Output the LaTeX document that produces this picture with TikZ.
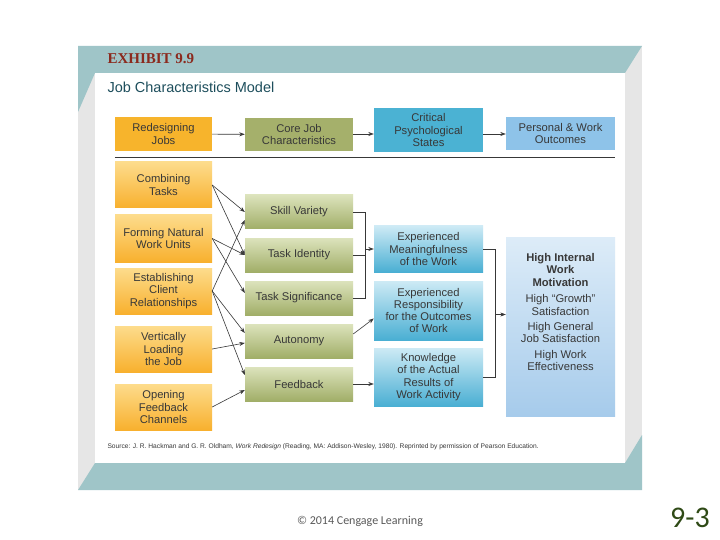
\documentclass[tikz,border=0pt]{standalone}
\usepackage{fontspec}
\setmainfont{Liberation Sans}
\newfontfamily\exhibitfont{Liberation Serif}
\newfontfamily\slidefont{Carlito}
\usetikzlibrary{arrows.meta}

\definecolor{frameteal}{HTML}{9FC5C8}
\definecolor{framegray}{HTML}{E6E6E6}
\definecolor{exhibitred}{HTML}{8B2A1E}
\definecolor{titleteal}{HTML}{1D4E5C}
\definecolor{boxtext}{HTML}{383838}
\definecolor{leverflat}{HTML}{F7B42C}
\definecolor{levertop}{HTML}{FDDC8C}
\definecolor{leverbot}{HTML}{F8B02E}
\definecolor{coreflat}{HTML}{A5B06B}
\definecolor{coretop}{HTML}{DCE3BC}
\definecolor{corebot}{HTML}{A1AE68}
\definecolor{stateflat}{HTML}{4BB2D3}
\definecolor{statetop}{HTML}{CDEAF5}
\definecolor{statebot}{HTML}{4AAFD3}
\definecolor{outflat}{HTML}{8EC3E9}
\definecolor{outtop}{HTML}{DDECF8}
\definecolor{outbot}{HTML}{A6CBEB}
\definecolor{slidegreen}{HTML}{2F4A16}

\begin{document}
\begin{tikzpicture}[x=1pt,y=-1pt, font=\fontsize{11.2}{12.3}\selectfont,
  box/.style={inner sep=1pt, align=center, text=boxtext},
  lever/.style={box, top color=levertop, bottom color=leverbot, minimum width=97pt, minimum height=46pt},
  corebox/.style={box, top color=coretop, bottom color=corebot, minimum width=108pt, minimum height=34pt},
  statebox/.style={box, top color=statetop, bottom color=statebot, minimum width=109pt},
  arr/.style={draw=boxtext, line width=0.6pt, -{Stealth[length=5.5pt,width=4pt]}},
  bracket/.style={draw=boxtext, line width=0.6pt}]

\useasboundingbox (0,0) rectangle (720,540);
\fill[white] (0,0) rectangle (720,540);

% ===== Frame =====
\fill[framegray] (78,46) rectangle (642,490);
\fill[frameteal] (78,46) -- (642,46) -- (625,73) -- (95,73) -- (78,112) -- cycle;
\fill[frameteal] (78,490) -- (95,463) -- (625,463) -- (642,435) -- (642,490) -- cycle;
\fill[white] (95,73) rectangle (625,463);

\node[anchor=west, font=\exhibitfont\bfseries\fontsize{15}{15}\selectfont, text=exhibitred] (exhibit) at (104,59) {EXHIBIT 9.9};
\node[anchor=west, font=\fontsize{14.5}{15}\selectfont, text=titleteal] (title) at (104,87) {Job Characteristics Model};

% ===== Header row =====
\node[box, fill=leverflat, minimum width=97pt, minimum height=34pt] (rj) at (163.5,134) {Redesigning\\Jobs};
\node[box, fill=coreflat, minimum width=108pt, minimum height=33pt] (cj) at (299,134.5) {Core Job\\Characteristics};
\node[box, fill=stateflat, minimum width=109pt, minimum height=44pt] (cp) at (428.5,130) {Critical\\Psychological\\States};
\node[box, fill=outflat, minimum width=109pt, minimum height=33pt] (po) at (560.5,133.5) {Personal \& Work\\Outcomes};

\draw[arr] (rj) -- (cj);
\draw[arr] (cj.east |- rj.east) -- (cp.west |- rj.east);
\draw[arr] (cp.east |- rj.east) -- (po.west |- rj.east);
\draw[bracket] ([yshift=-6pt]rj.south west) -- ([yshift=-6pt]rj.south west -| po.east);

% ===== Redesigning jobs =====
\node[lever] (ct) at (163.5,185) {Combining\\Tasks};
\node[lever, minimum height=47pt] (fn) at (163.5,238.5) {Forming Natural\\Work Units};
\node[lever] (ec) at (163.5,291) {Establishing\\Client\\Relationships};
\node[lever] (vl) at (163.5,349) {Vertically\\Loading\\the Job};
\node[lever] (of) at (163.5,407) {Opening\\Feedback\\Channels};

% ===== Core job characteristics =====
\node[corebox] (sv) at (299,212) {Skill Variety};
\node[corebox] (ti) at (299,255) {Task Identity};
\node[corebox] (ts) at (299,298) {Task Significance};
\node[corebox] (au) at (299,341) {Autonomy};
\node[corebox] (fb) at (299,384) {Feedback};

\draw[arr] (ct.east) -- (sv.west);
\draw[arr] (ct.east) -- (ti.west);
\draw[arr] (fn.east) -- (ti.west);
\draw[arr] (fn.east) -- ([yshift=5pt]ts.west);
\draw[arr] (ec.east) -- ([yshift=-8pt]sv.west);
\draw[arr] (ec.east) -- ([yshift=8pt]au.west);
\draw[arr] (ec.east) -- ([yshift=9pt]fb.west);
\draw[arr] (vl.east) -- ([yshift=-2pt]au.west);
\draw[arr] (of.east) -- ([yshift=-6pt]fb.west);

% ===== Critical psychological states =====
\node[statebox, minimum height=46pt] (em) at (428.5,249) {Experienced\\Meaningfulness\\of the Work};
\node[statebox, minimum height=59pt] (er) at (428.5,310.5) {Experienced\\Responsibility\\for the Outcomes\\of Work};
\node[statebox, minimum height=58pt] (ka) at (428.5,377) {Knowledge\\of the Actual\\Results of\\Work Activity};

\coordinate (cb) at (365,0);
\draw[bracket] (sv.east) -- (sv.east -| cb) -- (ts.east -| cb) -- (ts.east);
\draw[bracket] (ti.east) -- (ti.east -| cb);
\draw[arr] (cb |- em.west) -- (em.west);
\draw[arr] ([yshift=7pt]au.east) -- ([yshift=-8pt]er.west);
\draw[arr] (fb.east) -- (fb.east -| ka.west);

% ===== Outcomes =====
\node[box, top color=outtop, bottom color=outbot, minimum width=109pt, minimum height=179pt] (oc) at (560.5,326.5) {};
\node[box] (octext) at (560.5,312)
  {\textbf{High Internal}\\\textbf{Work}\\\textbf{Motivation}\\[4.5pt]High “Growth”\\Satisfaction\\[3pt]High General\\Job Satisfaction\\[3pt]High Work\\Effectiveness};

\coordinate (sb) at (495,0);
\draw[bracket] (em.east) -- (em.east -| sb) -- (ka.east -| sb) -- (ka.east);
\draw[arr] (sb |- 0,314.5) -- (oc.west |- 0,314.5);

% ===== Source and slide footer =====
\node[anchor=west, font=\fontsize{6.65}{7}\selectfont, text=boxtext] (source) at (104,447)
  {Source: J. R. Hackman and G. R. Oldham, \textit{Work Redesign} (Reading, MA: Addison-Wesley, 1980). Reprinted by permission of Pearson Education.};
\node[font=\slidefont\fontsize{12}{13}\selectfont, text=black!65] (copyright) at (360,521) {© 2014 Cengage Learning};
\node[font=\slidefont\fontsize{30}{30}\selectfont, text=slidegreen] (slideno) at (690,518) {9-3};

\end{tikzpicture}
\end{document}
